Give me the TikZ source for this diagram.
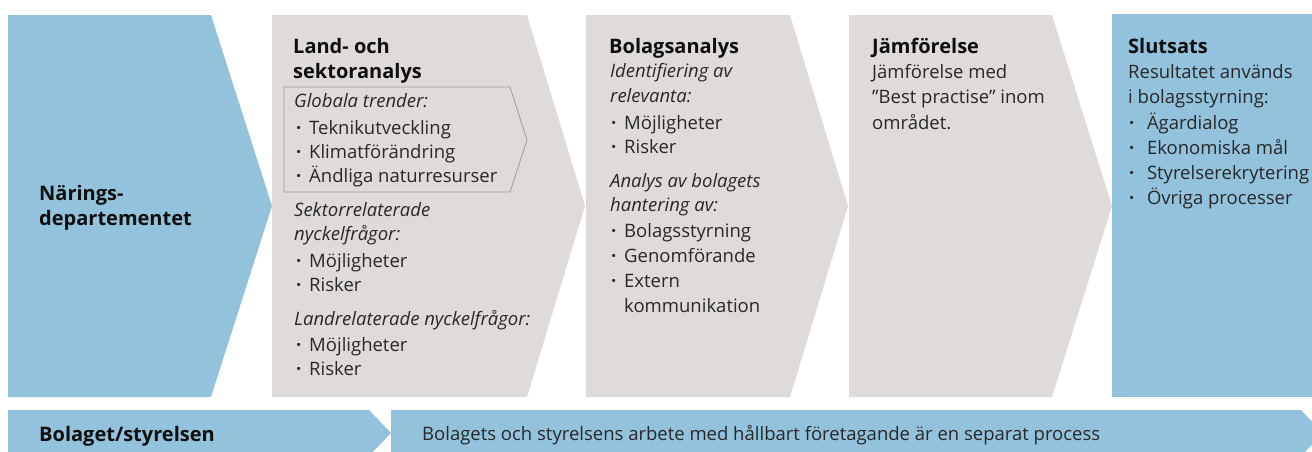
\documentclass[tikz,border=0pt]{standalone}
\usepackage{fontspec}
\setmainfont{Open Sans}
\definecolor{cblue}{RGB}{146,194,220}
\definecolor{cgray}{RGB}{223,219,216}
\definecolor{cline}{RGB}{160,154,150}
\definecolor{ctext}{RGB}{40,40,40}
\definecolor{ctitle}{RGB}{15,15,15}
\newcommand\blt[1][13pt]{\makebox[#1][l]{\bfseries ·}}
\tikzset{
  blueshape/.style={fill=cblue, draw=none},
  grayshape/.style={fill=cgray, draw=none},
  innerbox/.style={draw=cline, line width=0.8pt, fill=none},
  body/.style={inner sep=0pt, anchor=base west, text=ctext, font=\fontsize{18.5}{22}\selectfont},
  ital/.style={inner sep=0pt, anchor=base west, text=ctext, font=\fontsize{18.5}{22}\selectfont\itshape},
  ttl/.style={inner sep=0pt, anchor=base west, text=ctitle, font=\fontsize{20}{24}\selectfont\bfseries},
}
\begin{document}
\begin{tikzpicture}[x=1pt,y=-1pt]
\useasboundingbox (0,0) rectangle (1312,451);
\clip (0,0) rectangle (1312,451);
% top process shapes
\path[blueshape] (8,15) -- (211,15) -- (272,206) -- (211,397) -- (8,397) -- cycle;
\path[grayshape] (272,15) -- (527,15) -- (585,206) -- (527,397) -- (272,397) -- cycle;
\path[grayshape] (586,15) -- (790,15) -- (848,206) -- (790,397) -- (586,397) -- cycle;
\path[grayshape] (849,15) -- (1052,15) -- (1112,206) -- (1052,397) -- (849,397) -- cycle;
\path[blueshape] (1112,14) -- (1312,14) -- (1312,397) -- (1112,397) -- cycle;
% inner outlined chevron
\path[innerbox] (284,87) -- (510,87) -- (527,140) -- (510,192) -- (284,192) -- cycle;
% bottom bar
\path[blueshape] (8,410) -- (369,410) -- (391,433) -- (369,456) -- (8,456) -- cycle;
\path[blueshape] (391,410) -- (1301,410) -- (1323,433) -- (1301,456) -- (391,456) -- cycle;

% column 1
\node[ttl] (n1a) at (39,200) {Närings-};
\node[ttl] (n1b) at (39,225) {departementet};

% column 2
\node[ttl]  (c2a) at (293,53)  {Land- och};
\node[ttl]  (c2b) at (293,78)  {sektoranalys};
\node[ital] (c2c) at (294,107) {Globala trender:};
\node[body] (c2d) at (296,134) {\blt Teknikutveckling};
\node[body] (c2e) at (296,158) {\blt Klimatförändring};
\node[body] (c2f) at (296,182) {\blt Ändliga naturresurser};
\node[ital] (c2g) at (294,216) {Sektorrelaterade};
\node[ital] (c2h) at (294,240) {nyckelfrågor:};
\node[body] (c2i) at (296,267) {\blt Möjligheter};
\node[body] (c2j) at (296,291) {\blt Risker};
\node[ital] (c2k) at (294,325) {Landrelaterade nyckelfrågor:};
\node[body] (c2l) at (296,351) {\blt Möjligheter};
\node[body] (c2m) at (296,375) {\blt Risker};

% column 3
\node[ttl]  (c3a) at (609,53)  {Bolagsanalys};
\node[ital] (c3b) at (610,77)  {Identifiering av};
\node[ital] (c3c) at (610,102) {relevanta:};
\node[body] (c3d) at (611,129) {\blt Möjligheter};
\node[body] (c3e) at (611,153) {\blt Risker};
\node[ital] (c3f) at (610,187) {Analys av bolagets};
\node[ital] (c3g) at (610,211) {hantering av:};
\node[body] (c3h) at (611,237) {\blt Bolagsstyrning};
\node[body] (c3i) at (611,262) {\blt Genomförande};
\node[body] (c3j) at (611,287) {\blt Extern};
\node[body] (c3k) at (624,312) {kommunikation};

% column 4
\node[ttl]  (c4a) at (872,53)  {Jämförelse};
\node[body] (c4b) at (872,78)  {Jämförelse med};
\node[body] (c4c) at (872,103) {”Best practise” inom};
\node[body] (c4d) at (872,129) {området.};

% column 5
\node[ttl]  (c5a) at (1128,53)  {Slutsats};
\node[body] (c5b) at (1128,78)  {Resultatet används};
\node[body] (c5c) at (1128,103) {i bolagsstyrning:};
\node[body] (c5d) at (1129,129) {\blt[13pt] Ägardialog};
\node[body] (c5e) at (1129,154) {\blt[13pt] Ekonomiska mål};
\node[body] (c5f) at (1129,179) {\blt[13pt] Styrelserekrytering};
\node[body] (c5g) at (1129,204) {\blt[13pt] Övriga processer};

% bottom texts
\node[ttl]  (b1) at (39,441)  {Bolaget/styrelsen};
\node[body] (b2) at (422,440) {Bolagets och styrelsens arbete med hållbart företagande är en separat process};
\end{tikzpicture}
\end{document}
